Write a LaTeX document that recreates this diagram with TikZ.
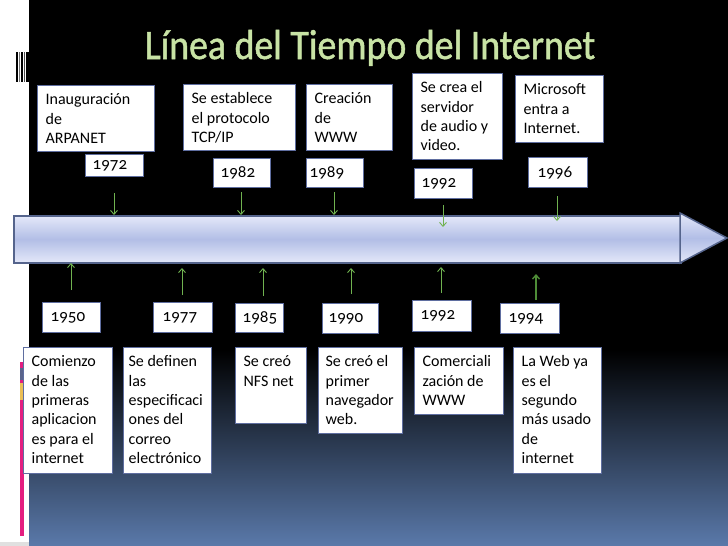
\documentclass[tikz,border=0pt]{standalone}
\usepackage{fontspec}
\setmainfont{Carlito}
\newfontfamily\yearfont{Carlito}[Numbers=OldStyle]
\newfontfamily\titlefont{Carlito}[FakeStretch=0.9,FakeBold=1.2]
\usetikzlibrary{arrows.meta}
\definecolor{boxline}{RGB}{95,110,160}
\definecolor{arrowline}{RGB}{85,100,140}
\definecolor{barlight}{RGB}{228,232,249}
\definecolor{barmid}{RGB}{178,190,230}
\definecolor{green1}{RGB}{112,178,80}
\definecolor{green2}{RGB}{78,140,55}
\definecolor{bgblue}{RGB}{90,121,170}
\definecolor{titlegreen}{RGB}{200,227,165}
\definecolor{pinkbar}{RGB}{228,30,128}
\definecolor{slatebar}{RGB}{90,100,140}
\definecolor{yellowbar}{RGB}{235,190,85}
\newcommand\desclines[3]{\parbox[t][\dimexpr#2pt-11pt\relax][t]{\dimexpr#1pt-16pt\relax}{\begin{tabular}[t]{@{}l@{}}#3\end{tabular}}}
\tikzset{
  card/.style={draw=boxline, line width=1.3pt, fill=white, anchor=north west,
    inner xsep=8pt, inner ysep=5.5pt, font=\fontsize{16}{19.4}\selectfont},
  yearbox/.style={draw=boxline, line width=1.3pt, fill=white, anchor=north west,
    inner xsep=7pt, inner ysep=0pt, align=left, font=\yearfont\fontsize{17}{20}\selectfont},
  downarrow/.style={draw=green1, line width=0.9pt, -{Straight Barb[length=4pt,width=7pt]}},
  uparrow/.style={draw=green1, line width=0.9pt, -{Straight Barb[length=4pt,width=7pt]}},
  darkuparrow/.style={draw=green2, line width=1.4pt, -{Straight Barb[length=4pt,width=7pt]}},
  timeline/.style={draw=arrowline, line width=1.5pt, top color=barlight, bottom color=barlight, middle color=barmid},
}
\begin{document}
\begin{tikzpicture}[x=1pt,y=-1pt]
\useasboundingbox (0,0) rectangle (728,546);
% background
\fill[white] (0,0) rectangle (728,546);
\fill[black] (29,0) rectangle (728,351);
\shade[top color=black, bottom color=bgblue] (29,350) rectangle (728,546);
\fill[black!12] (0,542) rectangle (29,546);
% left strip decorations
\fill[black] (16,52) rectangle (17.6,82);
\fill[black!55] (18.6,52) rectangle (19.6,82);
\fill[black] (21,52) rectangle (23,82);
\fill[black!70] (24,52) rectangle (25.2,82);
\fill[black] (26.4,52) rectangle (29,82);
\fill[pinkbar] (20,362) rectangle (24,536);
\fill[slatebar] (20,368) rectangle (24,380);
\fill[yellowbar] (20,383) rectangle (24,400);
% title
\node[font=\titlefont\fontsize{42}{50}\selectfont, text=titlegreen, anchor=base, inner sep=0pt] (title) at (370,59) {Línea del Tiempo del Internet};
% timeline arrow
\node[timeline, rectangle, anchor=north west, minimum width=667pt, minimum height=47pt, inner sep=0pt] (eje) at (13,215) {};
\path[timeline] (680,213) -- (727,238) -- (680,263) -- cycle;
% top cards
\node[card] (c1972) at (37,85) {\desclines{117}{66}{Inauguración\\de\\ARPANET}};
\node[card] (c1982) at (183,84) {\desclines{112}{66}{Se establece\\el protocolo\\TCP/IP}};
\node[card] (c1989) at (306,84) {\desclines{86}{66}{Creación\\de\\WWW}};
\node[card] (c1992) at (412,73) {\desclines{90}{86}{Se crea el\\servidor\\de audio y\\video.}};
\node[card] (c1996) at (515,75) {\desclines{88}{67}{Microsoft\\entra a\\Internet.}};
% top years
\node[yearbox, minimum width=58pt, minimum height=22pt, text width=44pt] (y1972) at (85,154) {1972};
\node[yearbox, minimum width=57pt, minimum height=29pt, text width=43pt] (y1982) at (213,158) {1982};
\node[yearbox, minimum width=57pt, minimum height=29pt, text width=51pt, inner xsep=3pt] (y1989) at (306,158) {1989};
\node[yearbox, minimum width=58pt, minimum height=30pt, text width=44pt] (y1992a) at (414,168) {1992};
\node[yearbox, minimum width=59pt, minimum height=30pt, text width=41pt, inner xsep=9pt] (y1996) at (528,157) {1996};
% bottom years
\node[yearbox, minimum width=58pt, minimum height=30pt, text width=42pt, inner xsep=8pt] (y1950) at (42,302) {1950};
\node[yearbox, minimum width=59pt, minimum height=30pt, text width=41pt, inner xsep=9pt] (y1977) at (153,302) {1977};
\node[yearbox, minimum width=48pt, minimum height=29pt, text width=34pt] (y1985) at (235,303) {1985};
\node[yearbox, minimum width=56pt, minimum height=30pt, text width=44pt, inner xsep=6pt] (y1990) at (322,303) {1990};
\node[yearbox, minimum width=59pt, minimum height=31pt, text width=43pt, inner xsep=8pt] (y1992b) at (412,300) {1992};
\node[yearbox, minimum width=59pt, minimum height=30pt, text width=43pt, inner xsep=8pt] (y1994) at (500,303) {1994};
% bottom cards
\node[card] (c1950) at (23,347) {\desclines{89}{126}{Comienzo\\de las\\primeras\\aplicacion\\es para el\\internet}};
\node[card, inner xsep=5pt] (c1977) at (123,347) {\desclines{94}{126}{Se definen\\las\\especificaci\\ones del\\correo\\electrónico}};
\node[card] (c1985) at (235,347) {\desclines{71}{76}{Se creó\\NFS net}};
\node[card, inner xsep=7pt] (c1990) at (318,347) {\desclines{86}{86}{Se creó el\\primer\\navegador\\web.}};
\node[card] (c1992b) at (414,347) {\desclines{89}{67}{Comerciali\\zación de\\WWW}};
\node[card] (c1994) at (513,347) {\desclines{88}{126}{La Web ya\\es el\\segundo\\más usado\\de\\internet}};
% connector coordinates
\coordinate (d1s) at (114,193); \coordinate (d1e) at (114,215);
\coordinate (d2s) at (241,192); \coordinate (d2e) at (241,215);
\coordinate (d3s) at (334,192); \coordinate (d3e) at (334,215);
\coordinate (d4s) at (443,205); \coordinate (d4e) at (443,227);
\coordinate (d5s) at (557,196); \coordinate (d5e) at (557,221);
\coordinate (u1s) at (71,290);  \coordinate (u1e) at (71,263);
\coordinate (u2s) at (182,295); \coordinate (u2e) at (182,268);
\coordinate (u3s) at (263,296); \coordinate (u3e) at (263,268);
\coordinate (u4s) at (351,294); \coordinate (u4e) at (351,268);
\coordinate (u5s) at (441,293); \coordinate (u5e) at (441,267);
\coordinate (u6s) at (536,300); \coordinate (u6e) at (536,274);
\draw[downarrow] (d1s) -- (d1e);
\draw[downarrow] (d2s) -- (d2e);
\draw[downarrow] (d3s) -- (d3e);
\draw[downarrow] (d4s) -- (d4e);
\draw[downarrow] (d5s) -- (d5e);
\draw[uparrow] (u1s) -- (u1e);
\draw[uparrow] (u2s) -- (u2e);
\draw[uparrow] (u3s) -- (u3e);
\draw[uparrow] (u4s) -- (u4e);
\draw[uparrow] (u5s) -- (u5e);
\draw[darkuparrow] (u6s) -- (u6e);
\end{tikzpicture}
\end{document}
